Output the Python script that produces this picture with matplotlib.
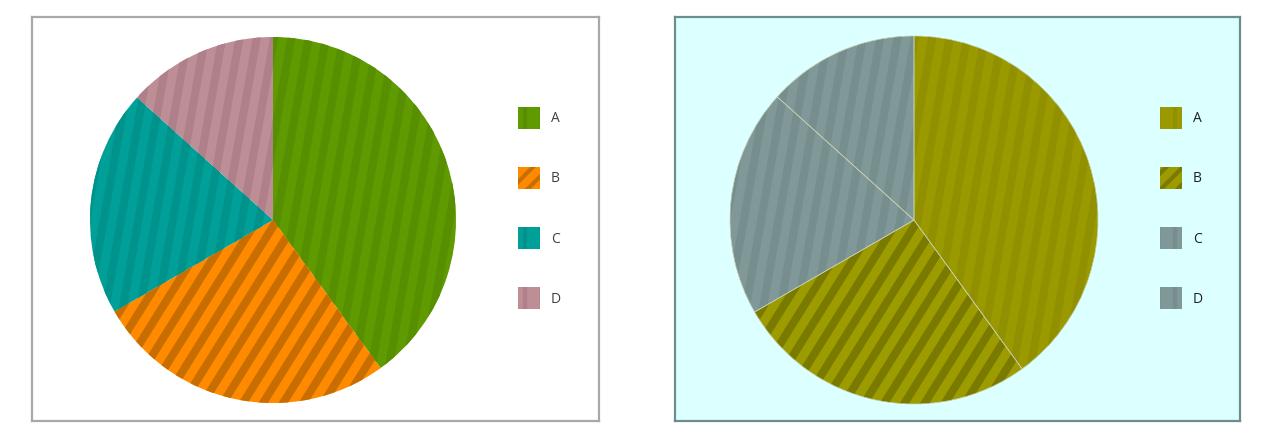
import numpy as np
import matplotlib
matplotlib.use("Agg")
import matplotlib.pyplot as plt
from matplotlib.patches import Patch, Wedge
from matplotlib.collections import LineCollection

plt.rcParams['font.family'] = ['Open Sans', 'DejaVu Sans']
plt.rcParams['hatch.linewidth'] = 3.0

# data (same for both pies)
labels = ['A', 'B', 'C', 'D']
values = [30, 20, 15, 10]

# left pie styling
left_colors = ['#5e9a00', '#ff8a00', '#00a099', '#bd8e96']
left_stripes = ['#578f00', '#c86e00', '#00938c', '#af808a']
# right pie styling
right_colors = ['#9a9a00', '#9c9c00', '#809898', '#809898']
right_stripes = ['#909000', '#7a7a00', '#778e8e', '#778e8e']
stripe_angles = [80, 58, 80, 80]
legend_hatch = ['|', '//', '|', '|']

W, H = 1269, 444
fig = plt.figure(figsize=(W / 100, H / 100), dpi=100)


def px_rect(x0, y0, x1, y1):
    # pixel box (top-left origin) -> figure fraction rect
    return [x0 / W, 1 - y1 / H, (x1 - x0) / W, (y1 - y0) / H]


def add_stripes(ax, wedge, angle, color, spacing=0.093, lw=5.8):
    th = np.deg2rad(angle)
    d = np.array([np.cos(th), np.sin(th)])
    n = np.array([-np.sin(th), np.cos(th)])
    segs = [[o * n - 2 * d, o * n + 2 * d] for o in np.arange(-1.6, 1.6, spacing)]
    lc = LineCollection(segs, colors=color, linewidths=lw, zorder=2)
    ax.add_collection(lc)
    lc.set_clip_path(wedge)


def panel(box, face, edge, center, r, colors, stripes, leg_x, text_color, wedge_edge):
    bg = fig.add_axes(px_rect(*box))
    bg.set_facecolor(face)
    bg.set_xticks([])
    bg.set_yticks([])
    for s in bg.spines.values():
        s.set_color(edge)
        s.set_linewidth(1.6)

    cx, cy = center
    ax = fig.add_axes(px_rect(cx - r, cy - r, cx + r, cy + r))
    ax.set_facecolor('none')
    wedges, _ = ax.pie(values, colors=colors, startangle=90, counterclock=False,
                       wedgeprops=dict(linewidth=0.5, edgecolor=wedge_edge))
    for w, a, c in zip(wedges, stripe_angles, stripes):
        add_stripes(ax, w, a, c)
        w.set_zorder(3)
        w.set_facecolor('none')
    # base fills below the stripes
    for w, fc in zip(wedges, colors):
        ax.add_patch(Wedge(w.center, w.r, w.theta1, w.theta2,
                           facecolor=fc, edgecolor='none', zorder=1))
    ax.set_xlim(-1, 1)
    ax.set_ylim(-1, 1)
    ax.axis('off')

    handles = [Patch(facecolor=fc, edgecolor=sc, linewidth=0, hatch=h)
               for fc, sc, h in zip(colors, stripes, legend_hatch)]
    fig.legend(handles, labels, loc='upper left',
               bbox_to_anchor=(leg_x / W, 1 - 107 / H),
               frameon=False, fontsize=10, handlelength=1.58, handleheight=2.05,
               handletextpad=0.8, labelspacing=2.75, borderpad=0, borderaxespad=0,
               labelcolor=text_color)


panel((32, 17, 599, 421), 'white', '#a8a8a8', (273, 220), 183,
      left_colors, left_stripes, 518, '#404040', 'none')
panel((675, 17, 1240, 421), '#dcffff', '#6e8c8c', (914, 220), 184,
      right_colors, right_stripes, 1160, '#202020', '#c8d0b0')

fig.savefig('out.png', dpi=100)
